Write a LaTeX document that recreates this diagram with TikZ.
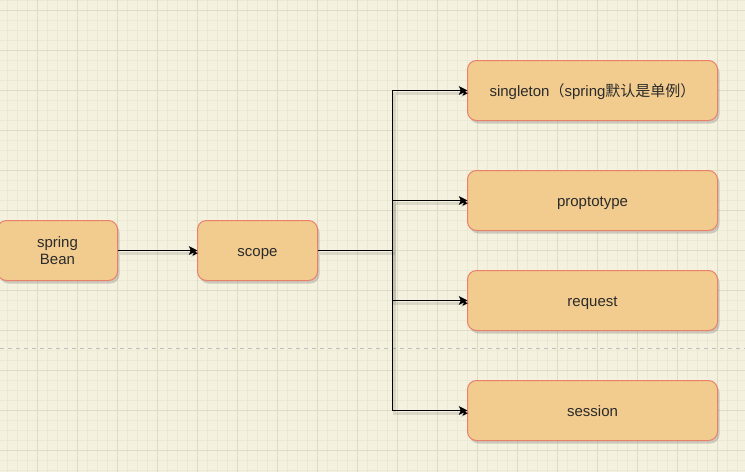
\documentclass[tikz,border=0pt]{standalone}
\usepackage{fontspec}
\setmainfont{Liberation Sans}
\newfontfamily\cjk{Noto Sans CJK SC}
\usetikzlibrary{arrows.meta,shadows}
\definecolor{bg}{HTML}{F4F1DE}
\definecolor{gridminor}{HTML}{EBE8D3}
\definecolor{gridmajor}{HTML}{DFDBC5}
\definecolor{boxfill}{HTML}{F2CC8F}
\definecolor{boxdraw}{HTML}{E9806A}
\definecolor{txt}{HTML}{2B2B2B}
\begin{document}
\begin{tikzpicture}[x=0.75pt,y=-0.75pt,
  box/.style={draw=boxdraw, fill=boxfill, rounded corners=6.75pt, line width=0.75pt,
    minimum height=45pt, inner sep=0pt, outer sep=0pt, align=center, text=txt,
    font=\fontsize{11.25}{12.75}\selectfont,
    drop shadow={shadow xshift=1.5pt, shadow yshift=-2.25pt, opacity=0.3, fill=black!55}},
  oneline/.style={text height=10.25pt, text depth=2pt},
  small/.style={box, minimum width=90pt},
  wide/.style={box, oneline, minimum width=187.5pt},
  wire/.style={draw=black, line width=0.75pt,
    preaction={draw=black, draw opacity=0.1, line width=2pt, transform canvas={xshift=1.5pt,yshift=-2pt}}},
  conn/.style={wire, -{Stealth[length=6.5pt, width=6.5pt, inset=1.5pt]}},
  pagebreak/.style={draw=black!25, line width=0.75pt, dash pattern=on 3pt off 3pt}
]
\useasboundingbox (0,0) rectangle (745,472);
\fill[bg] (0,0) rectangle (745,472);
% grid
\foreach \i in {0,...,73} \draw[gridminor, line width=0.75pt] (7.5+10*\i,0) -- (7.5+10*\i,472);
\foreach \i in {0,...,47} \draw[gridminor, line width=0.75pt] (0,0.5+10*\i) -- (745,0.5+10*\i);
\foreach \i in {0,...,17} \draw[gridmajor, line width=0.75pt] (37.5+40*\i,0) -- (37.5+40*\i,472);
\foreach \i in {0,...,11} \draw[gridmajor, line width=0.75pt] (0,10.5+40*\i) -- (745,10.5+40*\i);
% page break
\draw[pagebreak] (0,348.5) -- (745,348.5);

% nodes
\node[small] (bean) at (57.5,250.5) {spring\\Bean};
\node[small, oneline] (scope) at (257.5,250.5) {scope};
\node[wide] (s1) at (592.5,90.5) {singleton{\cjk （}spring{\cjk 默认是单例）}};
\node[wide] (s2) at (592.5,200.5) {proptotype};
\node[wide] (s3) at (592.5,300.5) {request};
\node[wide] (s4) at (592.5,410.5) {session};
\coordinate (j) at (392.5,250.5);

% connectors
\draw[conn] (bean) -- (scope);
\draw[wire] (scope) -- (j);
\draw[conn] (j) |- (s1.west);
\draw[conn] (j) |- (s2.west);
\draw[conn] (j) |- (s3.west);
\draw[conn] (j) |- (s4.west);
\end{tikzpicture}
\end{document}
